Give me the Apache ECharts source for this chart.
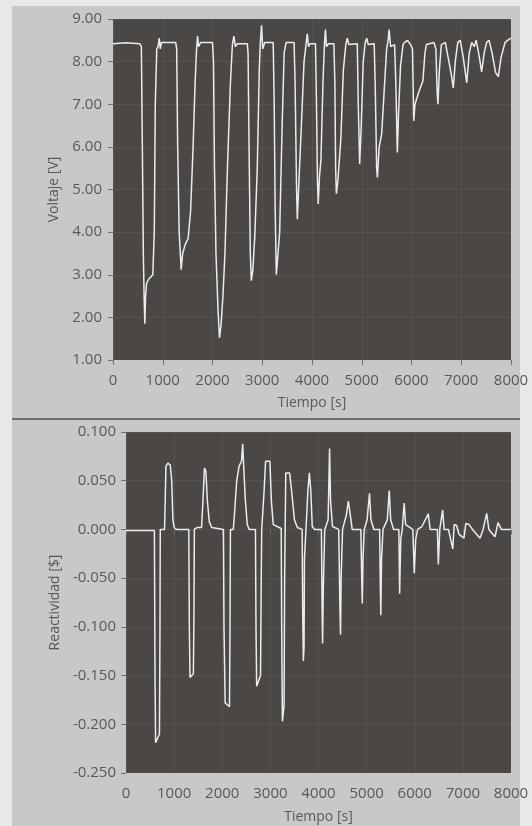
<!DOCTYPE html>
<html>
<head>
<meta charset="utf-8">
<script src="https://cdn.jsdelivr.net/npm/echarts@6/dist/echarts.min.js"></script>
<style>
  html, body { margin: 0; padding: 0; background: #e8e8e8; }
  #chart { width: 532px; height: 826px; }
</style>
</head>
<body>
<div id="chart"></div>
<script>
  // Voltaje (grafico superior)
  var tiempoV = [0, 250, 540, 570, 590, 610, 625, 640, 655, 675, 720, 800, 830, 850, 880, 905, 930, 950, 975,
    1260, 1280, 1300, 1330, 1370, 1400, 1450, 1510, 1560, 1610, 1650, 1680, 1700, 1720, 1760,
    2000, 2020, 2040, 2070, 2110, 2140, 2170, 2210, 2250, 2300, 2360, 2400, 2430, 2460, 2500,
    2700, 2715, 2735, 2760, 2780, 2810, 2850, 2900, 2940, 2960, 2985, 3010, 3050,
    3220, 3240, 3260, 3283, 3310, 3350, 3400, 3440, 3480, 3520,
    3640, 3660, 3690, 3705, 3730, 3790, 3840, 3880, 3905, 3930, 3960,
    4070, 4090, 4110, 4125, 4150, 4180, 4220, 4250, 4270, 4290, 4330,
    4440, 4460, 4475, 4490, 4520, 4580, 4630, 4680, 4710, 4740,
    4910, 4930, 4958, 4990, 5030, 5070, 5100, 5130,
    5250, 5270, 5300, 5315, 5350, 5400, 5450, 5500, 5530, 5550, 5580,
    5660, 5685, 5715, 5740, 5780, 5830, 5860, 5920, 5980,
    6020, 6045, 6070, 6150, 6230, 6270, 6300, 6450, 6490, 6515, 6532, 6560, 6600,
    6680, 6720, 6800, 6840, 6880, 6930, 6980, 7040, 7110, 7160, 7210, 7260, 7300, 7350, 7410,
    7460, 7510, 7560, 7620, 7690, 7745, 7800, 7880, 7960, 8000];
  var voltaje = [8.42, 8.44, 8.42, 8.35, 6.0, 3.5, 2.5, 1.85, 2.5, 2.8, 2.9, 3.0, 4.0, 7.0, 8.3, 8.35, 8.55, 8.3, 8.45,
    8.45, 8.3, 6.0, 4.0, 3.12, 3.5, 3.7, 3.85, 4.5, 6.0, 7.5, 8.3, 8.6, 8.35, 8.45,
    8.45, 8.0, 5.5, 3.5, 2.2, 1.52, 1.8, 2.5, 3.5, 5.5, 7.5, 8.4, 8.6, 8.35, 8.42,
    8.42, 8.2, 6.0, 3.5, 2.86, 3.1, 3.9, 5.5, 7.8, 8.4, 8.85, 8.3, 8.45,
    8.45, 7.0, 4.5, 3.0, 3.4, 4.0, 6.5, 8.2, 8.45, 8.45,
    8.45, 7.5, 5.0, 4.3, 5.0, 6.6, 8.0, 8.4, 8.65, 8.35, 8.42,
    8.42, 7.0, 5.2, 4.66, 5.3, 5.7, 7.5, 8.4, 8.75, 8.35, 8.42,
    8.42, 7.5, 5.5, 4.9, 5.2, 6.2, 7.8, 8.4, 8.55, 8.4,
    8.42, 7.0, 5.6, 6.5, 8.0, 8.45, 8.55, 8.4,
    8.42, 7.5, 5.5, 5.28, 6.0, 6.3, 7.3, 8.3, 8.5, 8.75, 8.35,
    8.4, 7.5, 5.87, 6.8, 7.9, 8.4, 8.45, 8.5, 8.4,
    8.3, 6.61, 7.0, 7.3, 7.55, 8.2, 8.4, 8.45, 8.3, 7.3, 7.0, 7.8, 8.4,
    8.45, 8.2, 7.7, 7.38, 8.0, 8.45, 8.5, 8.1, 7.5, 8.2, 8.45, 8.35, 8.5, 8.2, 7.76,
    8.2, 8.45, 8.5, 8.2, 7.75, 7.65, 8.1, 8.45, 8.52, 8.55];

  // Reactividad (grafico inferior)
  var tiempoR = [0, 590, 603, 615, 640, 695, 706, 712, 800, 815, 830, 870, 920, 950, 975, 1000, 1050,
    1305, 1316, 1330, 1400, 1413, 1420, 1480, 1570, 1600, 1630, 1660, 1690, 1730, 1780, 1820,
    2025, 2036, 2060, 2090, 2150, 2161, 2170, 2230, 2260, 2300, 2350, 2400, 2425, 2450, 2480, 2520, 2560,
    2690, 2701, 2715, 2795, 2810, 2820, 2870, 2900, 2940, 2990, 3020, 3060, 3100,
    3225, 3235, 3250, 3285, 3296, 3320, 3400, 3440, 3500, 3560,
    3660, 3671, 3685, 3700, 3708, 3740, 3780, 3810, 3840, 3870, 3920,
    4060, 4075, 4085, 4100, 4130, 4200, 4230, 4250, 4290,
    4420, 4445, 4458, 4470, 4500, 4580, 4620, 4660, 4700,
    4880, 4898, 4910, 4925, 4950, 5010, 5060, 5090, 5150,
    5270, 5285, 5295, 5310, 5340, 5430, 5470, 5500, 5560,
    5670, 5686, 5696, 5710, 5740, 5780, 5810,
    5960, 5990, 6020, 6060, 6150, 6280, 6320,
    6470, 6490, 6520, 6580, 6610, 6700, 6790, 6820, 6870, 6920, 7023, 7060, 7130, 7200,
    7356, 7420, 7495, 7540, 7668, 7730, 7800, 8000];
  var reactividad = [-0.001, -0.001, -0.15, -0.219, -0.22, -0.21, -0.1, 0.0, 0.0, 0.03, 0.065, 0.068, 0.066, 0.05, 0.01, 0.002, 0.0,
    0.0, -0.1, -0.152, -0.148, -0.08, 0.0, 0.002, 0.002, 0.03, 0.063, 0.06, 0.03, 0.008, 0.002, 0.0,
    0.0, -0.1, -0.178, -0.18, -0.182, -0.1, 0.0, 0.0, 0.02, 0.05, 0.065, 0.07, 0.088, 0.06, 0.03, 0.005, 0.0,
    0.0, -0.1, -0.161, -0.15, -0.05, 0.0, 0.04, 0.07, 0.072, 0.07, 0.03, 0.005, 0.003,
    0.001, -0.1, -0.197, -0.18, -0.05, 0.058, 0.058, 0.04, 0.01, 0.002,
    0.0, -0.08, -0.135, -0.12, -0.03, 0.0, 0.04, 0.058, 0.04, 0.003, 0.0,
    0.0, -0.08, -0.117, -0.06, 0.0, 0.01, 0.083, 0.03, 0.003,
    0.0, -0.08, -0.108, -0.05, 0.0, 0.015, 0.029, 0.015, 0.0,
    0.0, -0.05, -0.076, -0.03, 0.0, 0.01, 0.037, 0.01, 0.0,
    0.0, -0.06, -0.088, -0.03, 0.0, 0.01, 0.04, 0.01, 0.0,
    0.0, -0.066, -0.04, -0.01, 0.0, 0.027, 0.005,
    0.0, -0.045, -0.01, 0.0, 0.003, 0.016, 0.0,
    0.0, -0.036, 0.0, 0.02, 0.0, 0.0, -0.02, 0.005, 0.004, -0.005, -0.009, 0.006, 0.005, 0.0,
    -0.009, 0.0, 0.0165, 0.0, -0.0075, 0.007, 0.0, 0.0];

  function zip(xs, ys) {
    return xs.map(function (x, i) { return [x, ys[i]] })
  }

  var textColor = '#595959'
  var fontFamily = 'Open Sans'

  function xAxisOpt(gridIndex, gap) {
    return {
      type: 'value', gridIndex: gridIndex, min: 0, max: 8000, interval: 1000,
      name: 'Tiempo [s]', nameLocation: 'middle', nameGap: gap,
      nameTextStyle: { color: textColor, fontSize: 14, fontFamily: fontFamily },
      axisLine: { show: false },
      axisTick: { show: true, length: 5, lineStyle: { color: '#707070' } },
      axisLabel: { color: textColor, fontSize: 15, fontFamily: fontFamily, margin: 13,
        formatter: function (v) { return String(v) } },
      splitLine: { show: true, lineStyle: { color: 'rgba(255,255,255,0.06)' } }
    }
  }

  var chart = echarts.init(document.getElementById('chart'))
  chart.setOption({
    backgroundColor: '#e8e8e8',
    animation: false,
    graphic: [
      { type: 'rect', z: -10, shape: { x: 12, y: 6, width: 508, height: 412 }, style: { fill: '#c8c8c8' } },
      { type: 'rect', z: -10, shape: { x: 12, y: 418, width: 508, height: 2 }, style: { fill: '#6e6e6e' } },
      { type: 'rect', z: -10, shape: { x: 12, y: 420, width: 508, height: 406 }, style: { fill: '#c8c8c8' } }
    ],
    grid: [
      { left: 113, top: 19, width: 398, height: 341, show: true, backgroundColor: '#4a4745', borderWidth: 0 },
      { left: 126, top: 432, width: 385, height: 341, show: true, backgroundColor: '#4a4745', borderWidth: 0 }
    ],
    xAxis: [xAxisOpt(0, 36), xAxisOpt(1, 37)],
    yAxis: [
      {
        type: 'value', gridIndex: 0, min: 1, max: 9, interval: 1,
        name: 'Voltaje [V]', nameLocation: 'middle', nameGap: 50,
        nameTextStyle: { color: textColor, fontSize: 14, fontFamily: fontFamily },
        axisLine: { show: false },
        axisTick: { show: true, length: 5, lineStyle: { color: '#707070' } },
        axisLabel: { color: textColor, fontSize: 15, fontFamily: fontFamily, margin: 11,
          formatter: function (v) { return v.toFixed(2) } },
        splitLine: { show: true, lineStyle: { color: 'rgba(255,255,255,0.06)' } }
      },
      {
        type: 'value', gridIndex: 1, min: -0.25, max: 0.1, interval: 0.05,
        name: 'Reactividad [$]', nameLocation: 'middle', nameGap: 64,
        nameTextStyle: { color: textColor, fontSize: 14, fontFamily: fontFamily },
        axisLine: { show: false },
        axisTick: { show: true, length: 5, lineStyle: { color: '#707070' } },
        axisLabel: { color: textColor, fontSize: 15, fontFamily: fontFamily, margin: 10,
          formatter: function (v) { return v.toFixed(3) } },
        splitLine: { show: true, lineStyle: { color: 'rgba(255,255,255,0.06)' } }
      }
    ],
    series: [
      {
        type: 'line', xAxisIndex: 0, yAxisIndex: 0, data: zip(tiempoV, voltaje),
        showSymbol: false, lineStyle: { color: '#ececec', width: 1.5 }
      },
      {
        type: 'line', xAxisIndex: 1, yAxisIndex: 1, data: zip(tiempoR, reactividad),
        showSymbol: false, lineStyle: { color: '#ececec', width: 1.5 }
      }
    ]
  })
</script>
</body>
</html>
